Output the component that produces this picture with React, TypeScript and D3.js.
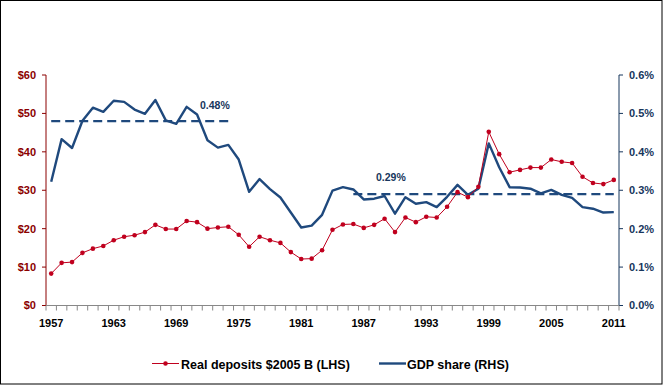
import React, { useLayoutEffect } from "react";
import * as d3 from "d3";

const years = [
  1957, 1958, 1959, 1960, 1961, 1962, 1963, 1964, 1965, 1966, 1967, 1968, 1969, 1970,
  1971, 1972, 1973, 1974, 1975, 1976, 1977, 1978, 1979, 1980, 1981, 1982, 1983, 1984,
  1985, 1986, 1987, 1988, 1989, 1990, 1991, 1992, 1993, 1994, 1995, 1996, 1997, 1998,
  1999, 2000, 2001, 2002, 2003, 2004, 2005, 2006, 2007, 2008, 2009, 2010, 2011,
];

const deposits = [
  8.3, 11.1, 11.3, 13.7, 14.8, 15.5, 17.0, 17.9, 18.3, 19.1, 21.0, 19.9, 19.9, 22.0,
  21.7, 20.0, 20.3, 20.5, 18.4, 15.3, 17.9, 17.0, 16.3, 13.9, 12.1, 12.2, 14.4, 19.7,
  21.1, 21.2, 20.2, 21.0, 22.6, 19.1, 22.9, 21.7, 23.1, 22.9, 25.7, 29.5, 28.2, 30.9,
  45.2, 39.4, 34.7, 35.3, 35.9, 35.9, 38.0, 37.4, 37.1, 33.5, 31.9, 31.6, 32.7,
];

const gdpShare = [
  0.322, 0.433, 0.41, 0.481, 0.515, 0.504, 0.533, 0.53, 0.51, 0.499, 0.535, 0.482, 0.473, 0.517,
  0.497, 0.43, 0.411, 0.418, 0.38, 0.296, 0.329, 0.303, 0.281, 0.242, 0.203, 0.208, 0.236, 0.299,
  0.308, 0.302, 0.276, 0.278, 0.285, 0.239, 0.282, 0.265, 0.269, 0.256, 0.283, 0.314, 0.288, 0.304,
  0.422, 0.36, 0.308, 0.307, 0.304, 0.292, 0.301, 0.288, 0.28, 0.256, 0.252, 0.242, 0.243,
];

const averages = [
  { from: 1957, to: 1974, value: 0.48, label: "0.48%" },
  { from: 1986, to: 2011, value: 0.29, label: "0.29%" },
];

const leftTicks = [0, 10, 20, 30, 40, 50, 60];
const rightTicks = [0, 0.1, 0.2, 0.3, 0.4, 0.5, 0.6];
const xLabelYears = [1957, 1963, 1969, 1975, 1981, 1987, 1993, 1999, 2005, 2011];

const W = 663;
const H = 385;
const left = 46;
const right = 619;
const top = 75;
const bottom = 305.5;

const RED = "#C0001E";
const REDAXIS = "#8B0000";
const BLUE = "#1F497D";
const NAVY = "#17365D";
const FONT = "'Liberation Sans', Arial, sans-serif";

export default function App() {
  useLayoutEffect(() => {
    document.body.style.margin = "0";
  }, []);

  const x = d3.scaleBand<number>().domain(years).range([left, right]).paddingInner(0).paddingOuter(0);
  const bw = x.bandwidth();
  const cx = (yr: number) => (x(yr) as number) + bw / 2;
  const yL = d3.scaleLinear().domain([0, 60]).range([bottom, top]);
  const yR = d3.scaleLinear().domain([0, 0.6]).range([bottom, top]);

  const redLine = d3
    .line<number>()
    .x((_, i) => cx(years[i]))
    .y((d) => yL(d));
  const blueLine = d3
    .line<number>()
    .x((_, i) => cx(years[i]))
    .y((d) => yR(d));

  const boundaries = years.map((yr) => x(yr) as number).concat([right]);

  return (
    <div style={{ position: "absolute", left: 0, top: 0 }}>
      <svg width={W} height={H} style={{ display: "block" }}>
        <rect x={0.5} y={0.5} width={W - 1.5} height={H - 1.5} fill="#fff" stroke="#000" strokeWidth={1} />

        {/* left axis */}
        <line x1={left} x2={left} y1={top} y2={bottom} stroke={REDAXIS} strokeWidth={1} />
        {leftTicks.map((t) => (
          <g key={"l" + t}>
            <line x1={left - 4} x2={left} y1={yL(t)} y2={yL(t)} stroke={REDAXIS} />
            <text
              x={left - 10}
              y={yL(t)}
              dy="0.35em"
              textAnchor="end"
              fontFamily={FONT}
              fontWeight="bold"
              fontSize={11}
              fill={REDAXIS}
            >
              {"$" + t}
            </text>
          </g>
        ))}

        {/* right axis */}
        <line x1={right} x2={right} y1={top} y2={bottom} stroke={NAVY} strokeWidth={1} />
        {rightTicks.map((t) => (
          <g key={"r" + t}>
            <line x1={right} x2={right + 4} y1={yR(t)} y2={yR(t)} stroke={NAVY} />
            <text
              x={right + 10}
              y={yR(t)}
              dy="0.35em"
              textAnchor="start"
              fontFamily={FONT}
              fontWeight="bold"
              fontSize={11}
              fill={NAVY}
            >
              {t.toFixed(1) + "%"}
            </text>
          </g>
        ))}

        {/* x axis */}
        <line x1={left} x2={right} y1={bottom} y2={bottom} stroke="#888" />
        {boundaries.map((b, i) => (
          <line key={"t" + i} x1={b} x2={b} y1={bottom} y2={bottom + 5} stroke="#888" />
        ))}
        {xLabelYears.map((yr) => (
          <text
            key={"x" + yr}
            x={cx(yr)}
            y={327}
            textAnchor="middle"
            fontFamily={FONT}
            fontWeight="bold"
            fontSize={11}
            fill="#000"
          >
            {yr}
          </text>
        ))}

        {/* average lines */}
        {averages.map((a) => (
          <line
            key={a.label}
            x1={cx(a.from)}
            x2={cx(a.to)}
            y1={yR(a.value)}
            y2={yR(a.value)}
            stroke={BLUE}
            strokeWidth={2.2}
            strokeDasharray="9,5"
          />
        ))}
        <text x={200} y={109} fontFamily={FONT} fontWeight="bold" fontSize={10.5} fill={NAVY}>
          {averages[0].label}
        </text>
        <text x={376} y={181} fontFamily={FONT} fontWeight="bold" fontSize={10.5} fill={NAVY}>
          {averages[1].label}
        </text>

        {/* series */}
        <path d={blueLine(gdpShare) || ""} fill="none" stroke={BLUE} strokeWidth={2.4} strokeLinejoin="round" />
        <path d={redLine(deposits) || ""} fill="none" stroke={RED} strokeWidth={1} />
        {deposits.map((d, i) => (
          <circle key={"c" + i} cx={cx(years[i])} cy={yL(d)} r={2.3} fill={RED} />
        ))}

        {/* legend */}
        <line x1={152} x2={179} y1={363.5} y2={363.5} stroke={RED} strokeWidth={1} />
        <circle cx={165.5} cy={363.5} r={2.3} fill={RED} />
        <text x={181} y={369} fontFamily={FONT} fontWeight="bold" fontSize={12.5} fill="#000">
          Real deposits $2005 B (LHS)
        </text>
        <line x1={379} x2={406} y1={363.5} y2={363.5} stroke={BLUE} strokeWidth={2.4} />
        <text x={407} y={369} fontFamily={FONT} fontWeight="bold" fontSize={12.5} fill="#000">
          GDP share (RHS)
        </text>
      </svg>
    </div>
  );
}
